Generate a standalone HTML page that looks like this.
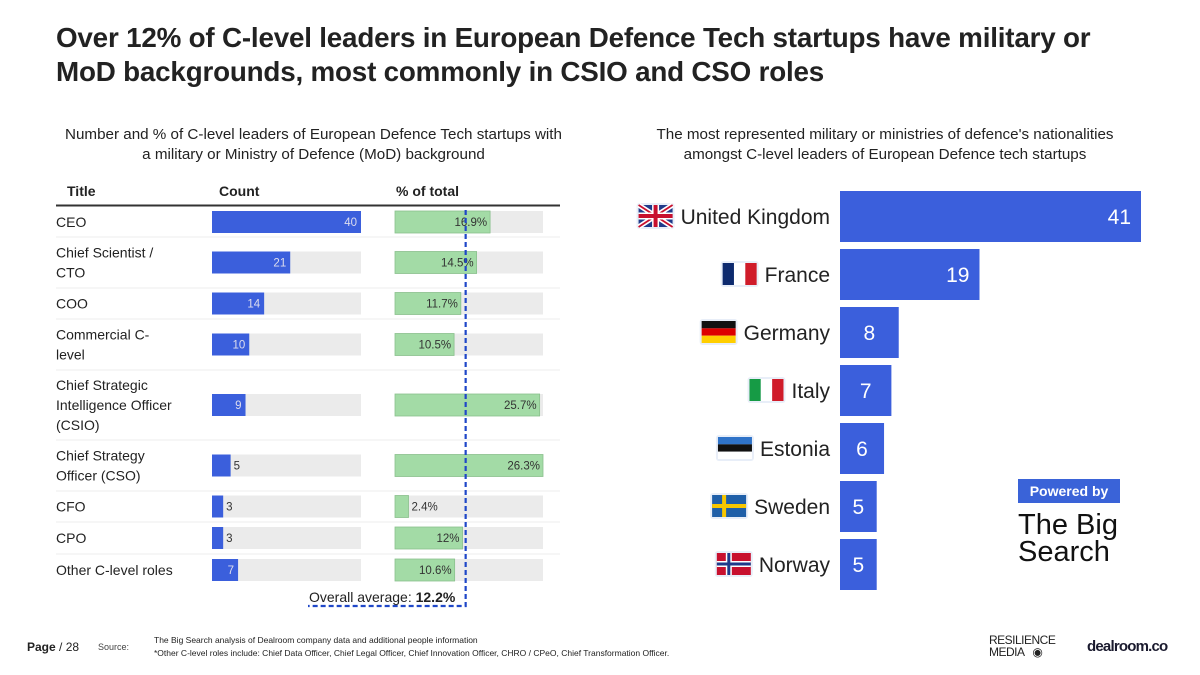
<!DOCTYPE html>
<html><head><meta charset="utf-8">
<style>
body{margin:0;width:1200px;height:675px;background:#fff;font-family:"Liberation Sans",sans-serif;position:relative;overflow:hidden;color:#222}
.abs{position:absolute}
#title{left:56px;top:21px;font-size:27.8px;font-weight:bold;line-height:34px;color:#222;letter-spacing:-0.2px}
.sub{font-size:15.2px;text-align:center;line-height:20px;color:#222}
</style></head><body>
<div id="title" class="abs">Over 12% of C-level leaders in European Defence Tech startups have military or<br>MoD backgrounds, most commonly in CSIO and CSO roles</div>
<div class="abs sub" style="left:40px;top:125px;width:547px">Number and % of C-level leaders of European Defence Tech startups with<br>a military or Ministry of Defence (MoD) background</div>
<div class="abs sub" style="left:615px;top:125px;width:540px">The most represented military or ministries of defence's nationalities<br>amongst C-level leaders of European Defence tech startups</div>
<svg class="abs" style="left:0;top:0" width="1200" height="675" id="svg"></svg>
<div class="abs" style="left:1018px;top:479px;width:102px;height:24px;background:#3a63d8;color:#fff;font-size:14px;font-weight:bold;text-align:center;line-height:24px">Powered by</div>
<div class="abs" style="left:1018px;top:512px;font-size:29px;line-height:27px;color:#111">The Big<br>Search</div>
<div class="abs" style="left:27px;top:640px;font-size:12px"><b>Page</b> / 28</div>
<div class="abs" style="left:98px;top:642px;font-size:9px;color:#444">Source:</div>
<div class="abs" style="left:154px;top:634px;font-size:8.5px;line-height:13px;color:#222">The Big Search analysis of Dealroom company data and additional people information<br>*Other C-level roles include: Chief Data Officer, Chief Legal Officer, Chief Innovation Officer, CHRO / CPeO, Chief Transformation Officer.</div>
<div class="abs" style="left:989px;top:634px;font-size:12px;line-height:12px;color:#222;letter-spacing:-0.5px">RESILIENCE<br>MEDIA &nbsp;&nbsp;◉</div>
<div class="abs" style="left:1087px;top:638px;font-size:15px;font-weight:bold;color:#1a1a2e;letter-spacing:-0.8px">dealroom.co</div>
<script>
const titles=[["CEO"],["Chief Scientist /","CTO"],["COO"],["Commercial C-","level"],["Chief Strategic","Intelligence Officer","(CSIO)"],["Chief Strategy","Officer (CSO)"],["CFO"],["CPO"],["Other C-level roles"]];
const counts=[40,21,14,10,9,5,3,3,7];
const pcts=[16.9,14.5,11.7,10.5,25.7,26.3,2.4,12,10.6];
const pctLabels=["16.9%","14.5%","11.7%","10.5%","25.7%","26.3%","2.4%","12%","10.6%"];
const avgPct=12.2;
const countries=["United Kingdom","France","Germany","Italy","Estonia","Sweden","Norway"];
const natValues=[41,19,8,7,6,5,5];
const NS="http://www.w3.org/2000/svg";
const svg=document.getElementById('svg');
function mk(t,a,p){const e=document.createElementNS(NS,t);for(const k in a)e.setAttribute(k,a[k]);(p||svg).appendChild(e);return e;}
const rowH=[30,51,31,51,70,51,31,32,32];
const cX=v=>212+v*149/40;
const pX=v=>395+v*148/26.3;
let h;
h=mk('text',{x:67,y:196,'font-size':14,'font-weight':'bold',fill:'#222'});h.textContent='Title';

h=mk('text',{x:219,y:196,'font-size':14,'font-weight':'bold',fill:'#222'});h.textContent='Count';

h=mk('text',{x:396,y:196,'font-size':14,'font-weight':'bold',fill:'#222'});h.textContent='% of total';

mk('line',{x1:56,x2:560,y1:205.5,y2:205.5,stroke:'#333','stroke-width':2});
let y=207;
titles.forEach((t,i)=>{
  const cy=y+rowH[i]/2;
  if(i<titles.length-1)mk('line',{x1:56,x2:560,y1:y+rowH[i],y2:y+rowH[i],stroke:'#eee'});
  const lh=20, y0=cy-(t.length-1)*lh/2+5;
  t.forEach((s,j)=>{const tx=mk('text',{x:56,y:y0+j*lh,'font-size':14,fill:'#222'});tx.textContent=s;
    });
  mk('rect',{x:212,y:cy-11,width:149,height:22,fill:'#ebebeb'});
  const b=mk('rect',{x:212,y:cy-11,width:cX(counts[i])-212,height:22,fill:'#3b5fdc'});
  
  const ct=mk('text',{x:cX(counts[i])>232?cX(counts[i])-4:cX(counts[i])+3,y:cy+4,'font-size':11.5,fill:cX(counts[i])>232?'#dde':'#333','text-anchor':cX(counts[i])>232?'end':'start'});ct.textContent=counts[i];
  
  mk('rect',{x:395,y:cy-11,width:148,height:22,fill:'#ebebeb'});
  const pb=mk('rect',{x:395,y:cy-11,width:pX(pcts[i])-395,height:22,fill:'#a3dba6',stroke:'#8ac08d','stroke-width':0.8});
  
  const inside=pX(pcts[i])-395>40;
  const pt=mk('text',{x:inside?pX(pcts[i])-3:pX(pcts[i])+3,y:cy+4,'font-size':11.5,fill:'#333','text-anchor':inside?'end':'start'});pt.textContent=pctLabels[i];
  
  y+=rowH[i];
});
const ax=pX(avgPct)+2;
const al=mk('polyline',{points:`${ax},210 ${ax},606 308,606`,fill:'none',stroke:'#1f47c8','stroke-width':2.2,'stroke-dasharray':'5,3'});

const at=mk('text',{x:309,y:606-0,'font-size':14,fill:'#222'});
at.setAttribute('transform','translate(0,-4)');
at.innerHTML='Overall average: <tspan font-weight="bold">'+avgPct+'%</tspan>';

const nX=v=>840+v*301/41;
function flag(i,x,y){const g=mk('g',{transform:`translate(${x},${y})`});
  mk('rect',{x:-2,y:-2,width:38,height:26,rx:3,fill:'#e8eef8'},g);
  const W=34,H=22;
  const c=countries[i];
  if(c==="United Kingdom"){mk('rect',{width:W,height:H,fill:'#1f3a8a'},g);
    mk('path',{d:`M0 0L${W} ${H}M${W} 0L0 ${H}`,stroke:'#fff','stroke-width':5},g);
    mk('path',{d:`M0 0L${W} ${H}M${W} 0L0 ${H}`,stroke:'#c8102e','stroke-width':1.8},g);
    mk('path',{d:`M${W/2} 0V${H}M0 ${H/2}H${W}`,stroke:'#fff','stroke-width':7},g);
    mk('path',{d:`M${W/2} 0V${H}M0 ${H/2}H${W}`,stroke:'#c8102e','stroke-width':4},g);}
  else if(c==="France"||c==="Italy"){const cs=c==="France"?['#0d2a6e','#fff','#d01c2a']:['#169b45','#fff','#d01c2a'];
    cs.forEach((col,k)=>mk('rect',{x:k*W/3,width:W/3,height:H,fill:col},g));}
  else if(c==="Germany"||c==="Estonia"){const cs=c==="Germany"?['#111','#d00','#ffce00']:['#2f73c8','#111','#fff'];
    cs.forEach((col,k)=>mk('rect',{y:k*H/3,width:W,height:H/3,fill:col},g));}
  else{const bg=c==="Sweden"?'#1f5fa8':'#c8102e';mk('rect',{width:W,height:H,fill:bg},g);
    if(c==="Norway"){mk('path',{d:`M12 0V${H}M0 11H${W}`,stroke:'#fff','stroke-width':6},g);mk('path',{d:`M12 0V${H}M0 11H${W}`,stroke:'#1f3a8a','stroke-width':3},g);}
    else mk('path',{d:`M12 0V${H}M0 11H${W}`,stroke:'#f7c600','stroke-width':4},g);}
  }
countries.forEach((c,i)=>{
  const top=191+i*58;
  const b=mk('rect',{x:840,y:top,width:nX(natValues[i])-840,height:51,fill:'#3b5fdc'});
  
  const v=mk('text',{x:nX(natValues[i])-10,y:top+33,'font-size':21,fill:'#fff','text-anchor':'end'});v.textContent=natValues[i];
  if(natValues[i]<10){v.setAttribute('x',(840+nX(natValues[i]))/2);v.setAttribute('text-anchor','middle');}
  
  const t=mk('text',{x:830,y:top+33,'font-size':21,fill:'#222','text-anchor':'end'});t.textContent=c;
  
  const w=t.getComputedTextLength();
  flag(i,830-w-42,top+14);
});
</script>
</body></html>
